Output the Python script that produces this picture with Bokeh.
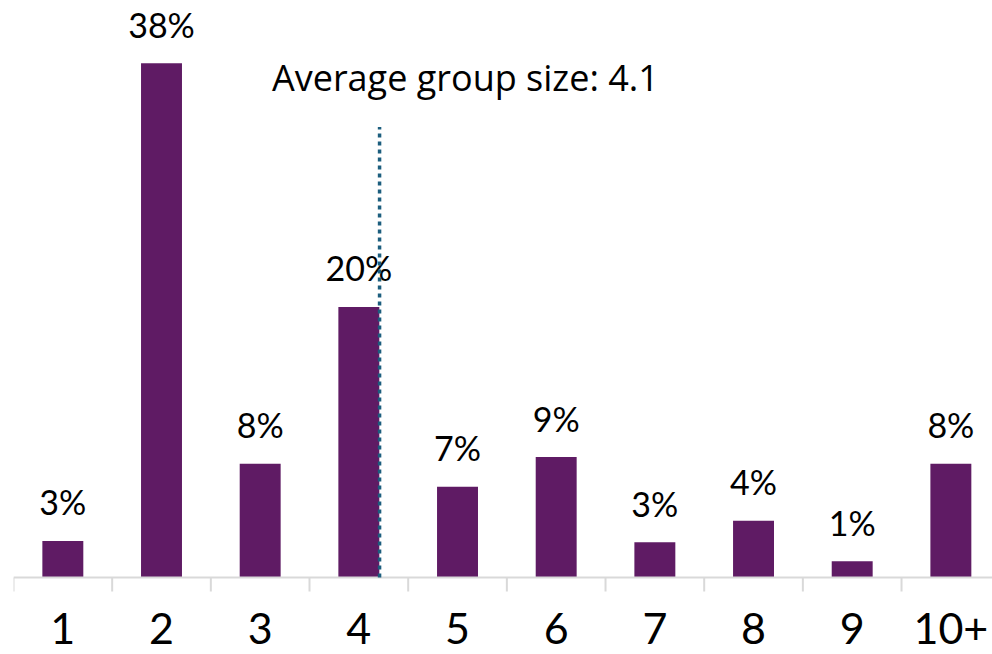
from bokeh.plotting import figure
from bokeh.models import Range1d, ColumnDataSource
from bokeh.core.properties import value
from bokeh.embed import file_html
from bokeh.resources import INLINE

# ---- data ----
positions = [1, 2, 3, 4, 5, 6, 7, 8, 9, 10]
categories = ["1", "2", "3", "4", "5", "6", "7", "8", "9", "10+"]
shares = [2.7, 38.0, 8.4, 20.0, 6.7, 8.9, 2.6, 4.2, 1.2, 8.4]
share_labels = ["3%", "38%", "8%", "20%", "7%", "9%", "3%", "4%", "1%", "8%"]
average_label = "Average group size: 4.1"
average_marker_x = [4.21]
average_marker_top = [33.3]
annotation_x = [5.08]
annotation_y = [35.9]

# ---- style / layout ----
FONT = "Lato"
ANN_FONT = "Open Sans"
BAR_COLOR = "#5F1B64"
AXIS_COLOR = "#D9D9D9"
AVG_COLOR = "#1C5E7E"

W, H = 992, 654
LEFT_PAD = 13
PX_PER_CAT = 98.67
PX_PER_PCT = 13.53
BASE_FROM_TOP = 577  # px in figure where 0% sits

x_start = 0.5
x_end = x_start + (W - LEFT_PAD) / PX_PER_CAT
y_end = BASE_FROM_TOP / PX_PER_PCT
y_start = -(H - BASE_FROM_TOP) / PX_PER_PCT
tick_len = 14 / PX_PER_PCT

p = figure(width=W, height=H, output_backend="svg", toolbar_location=None,
           x_range=Range1d(x_start, x_end), y_range=Range1d(y_start, y_end),
           min_border_left=LEFT_PAD, min_border_right=0, min_border_top=0,
           min_border_bottom=0, outline_line_color=None)
p.xaxis.visible = False
p.yaxis.visible = False
p.grid.visible = False
p.background_fill_color = "white"
p.border_fill_color = "white"

src = ColumnDataSource(dict(x=positions, top=shares, lab=share_labels, cat=categories))

# bars
p.vbar(x="x", top="top", bottom=0, width=0.415, source=src,
       fill_color=BAR_COLOR, line_color=None)

# baseline & category separators
bounds = [v - 0.5 for v in positions] + [positions[-1] + 0.5]
p.segment(x0=[bounds[0]], y0=[0], x1=[bounds[-1]], y1=[0],
          line_color=AXIS_COLOR, line_width=2)
p.segment(x0=bounds, y0=[0] * len(bounds), x1=bounds, y1=[-tick_len] * len(bounds),
          line_color=AXIS_COLOR, line_width=2)

# value labels
p.text(x="x", y="top", text="lab", source=src, text_align="center",
       text_baseline="alphabetic", y_offset=-39, text_font=value(FONT),
       text_font_size="34px", text_color="black")

# category labels
p.text(x="x", y=0, text="cat", source=src, text_align="center",
       text_baseline="alphabetic", y_offset=51, text_font=value(FONT),
       text_font_size="43px", text_color="black")

# average marker
p.segment(x0=average_marker_x, y0=[0], x1=average_marker_x, y1=average_marker_top,
          line_color=AVG_COLOR, line_width=3.5, line_dash="4 4")
p.text(x=annotation_x, y=annotation_y, text=[average_label], text_align="center",
       text_baseline="alphabetic", y_offset=-14, text_font=value(ANN_FONT),
       text_font_size="36px", text_color="black")

open("out.html", "w").write(file_html(p, INLINE))
